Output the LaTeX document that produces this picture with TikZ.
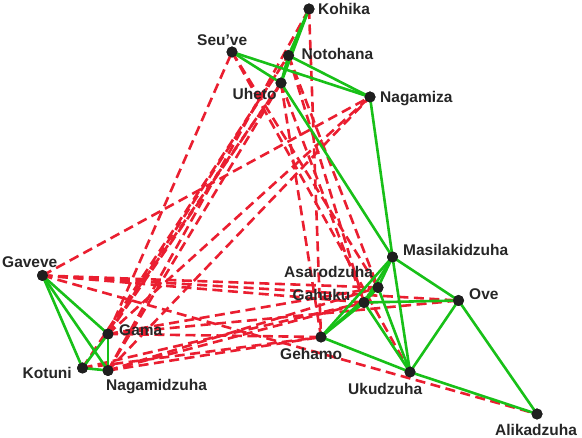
\documentclass[tikz,border=0pt]{standalone}
\usepackage{fontspec}
\setmainfont{Liberation Sans}
\definecolor{posg}{RGB}{24,192,24}
\definecolor{negr}{RGB}{234,30,48}
\begin{document}
\begin{tikzpicture}[x=1pt,y=-1pt,
  vert/.style={circle,fill=black!88,inner sep=0pt,minimum size=11pt},
  lab/.style={anchor=west,inner sep=0pt,text height=11pt,text depth=0pt,font=\fontsize{15.5}{18}\selectfont\bfseries,text=black!85},
  posedge/.style={draw=posg,line width=2.6pt},
  negedge/.style={draw=negr,line width=2.6pt,dash pattern=on 10pt off 5.5pt}]
\useasboundingbox (0,0) rectangle (582,438);
% vertices
\node[vert] (koh) at (309,9) {};
\node[vert] (seu) at (232,52) {};
\node[vert] (not) at (288.5,55.5) {};
\node[vert] (uhe) at (281,83) {};
\node[vert] (nmz) at (370,97) {};
\node[vert] (mas) at (392.5,257) {};
\node[vert] (asa) at (378,287.5) {};
\node[vert] (gah) at (364,302.5) {};
\node[vert] (ove) at (458.5,300.5) {};
\node[vert] (geh) at (321,337) {};
\node[vert] (uku) at (410,372) {};
\node[vert] (ali) at (537,414) {};
\node[vert] (gav) at (42.5,275.5) {};
\node[vert] (gam) at (108,334) {};
\node[vert] (kot) at (82.5,368) {};
\node[vert] (ngd) at (108,370.5) {};
% negative ties
\foreach \a/\b in {gav/nmz,gav/asa,gav/gah,gav/ove,gav/ali,
  gam/seu,gam/uhe,gam/not,gam/nmz,gam/asa,gam/geh,gam/ove,
  ngd/koh,ngd/uhe,ngd/nmz,ngd/gah,ngd/geh,ngd/asa,
  kot/not,kot/uhe,kot/geh,kot/gah,
  koh/geh,uhe/geh,seu/asa,seu/uku,not/gah,uhe/gah,not/asa}
  \draw[negedge] (\a.center) -- (\b.center);
% positive ties
\foreach \a/\b in {gav/kot,gav/ngd,gav/gam,kot/ngd,kot/gam,ngd/gam,
  ove/ali,ove/gah,ove/mas,ove/uku,ali/uku,
  nmz/mas,nmz/not,nmz/seu,
  gah/mas,gah/uku,gah/geh,gah/asa,
  mas/uku,mas/geh,mas/asa,mas/uhe,
  uku/geh,uku/asa,
  not/koh,not/uhe,koh/uhe,geh/asa,uhe/seu}
  \draw[posedge] (\a.center) -- (\b.center);
% redraw vertices on top
\foreach \v in {koh,seu,not,uhe,nmz,mas,asa,gah,ove,geh,uku,ali,gav,gam,kot,ngd}
  \fill[black!88] (\v) circle (5.5pt);
% labels
\node[lab] (lkoh) at (318,9) {Kohika};
\node[lab] (lseu) at (197,40) {Seu’ve};
\node[lab] (lnot) at (301.5,54) {Notohana};
\node[lab] (luhe) at (232.5,94.5) {Uheto};
\node[lab] (lnmz) at (380,97) {Nagamiza};
\node[lab] (lmas) at (403,250.5) {Masilakidzuha};
\node[lab] (lasa) at (284,272.5) {Asarodzuha};
\node[lab] (lgah) at (292.5,295.5) {Gahuku};
\node[lab] (love) at (469,294) {Ove};
\node[lab] (lgeh) at (280,354) {Gehamo};
\node[lab] (luku) at (348,389.5) {Ukudzuha};
\node[lab] (lali) at (495,430) {Alikadzuha};
\node[lab] (lgav) at (2,262) {Gaveve};
\node[lab] (lgam) at (119,330) {Gama};
\node[lab] (lkot) at (22.5,373.5) {Kotuni};
\node[lab] (lngd) at (106,385) {Nagamidzuha};
\end{tikzpicture}
\end{document}
